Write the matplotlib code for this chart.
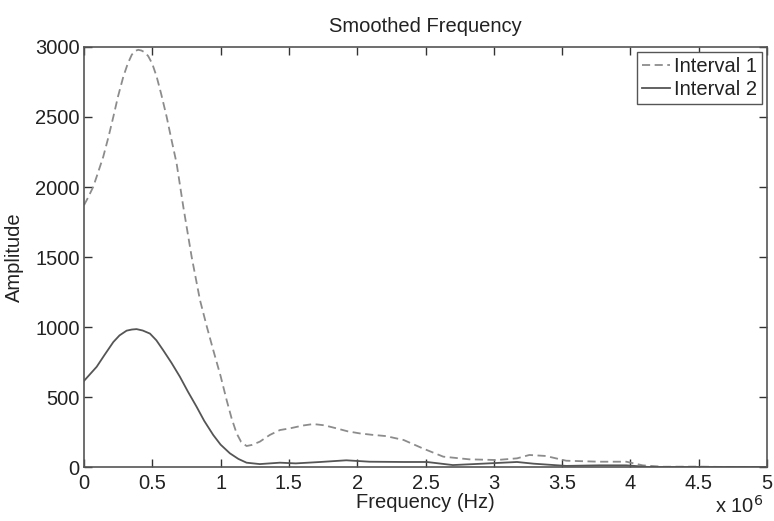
import matplotlib
matplotlib.use('Agg')
import matplotlib.pyplot as plt
from matplotlib.ticker import FuncFormatter

plt.rcParams['font.family'] = ['Liberation Sans', 'DejaVu Sans']

# frequency in MHz (axis shows x 10^6 Hz)
freq1 = [0.0, 0.03, 0.068, 0.10, 0.141, 0.18, 0.215, 0.25, 0.288, 0.32,
         0.35, 0.375, 0.397, 0.42, 0.445, 0.47, 0.50, 0.532, 0.565, 0.605,
         0.64, 0.678, 0.727, 0.788, 0.849, 0.90, 0.946, 1.0, 1.044, 1.08,
         1.117, 1.15, 1.19, 1.23, 1.287, 1.36, 1.434, 1.507, 1.6, 1.678,
         1.76, 1.849, 1.93, 2.02, 2.11, 2.21, 2.34, 2.48, 2.63, 2.82,
         3.02, 3.17, 3.26, 3.38, 3.53, 3.77, 3.97, 4.09, 4.24, 4.5,
         4.7, 5.0]
amp1 = [1870, 1925, 2002, 2095, 2216, 2360, 2502, 2650, 2788, 2880,
        2945, 2972, 2980, 2975, 2962, 2935, 2880, 2788, 2665, 2502,
        2340, 2169, 1859, 1502, 1193, 1000, 836, 650, 479, 350,
        241, 180, 150, 158, 181, 229, 264, 276, 296, 307,
        298, 276, 255, 240, 230, 221, 193, 133, 74, 55,
        50, 62, 86, 79, 45, 38, 38, 12, 2, 3,
        0, 0]

freq2 = [0.0, 0.093, 0.15, 0.215, 0.26, 0.312, 0.35, 0.385, 0.43, 0.483,
         0.53, 0.58, 0.64, 0.702, 0.76, 0.824, 0.88, 0.946, 1.0, 1.068,
         1.13, 1.19, 1.287, 1.434, 1.55, 1.73, 1.92, 2.09, 2.34, 2.51,
         2.7, 2.92, 3.17, 3.29, 3.53, 3.77, 3.97, 4.14, 4.5, 5.0]
amp2 = [615, 716, 800, 893, 940, 974, 982, 985, 975, 953,
        905, 834, 745, 645, 540, 431, 330, 229, 160, 98,
        58, 31, 21, 31, 26, 36, 48, 38, 36, 36,
        14, 24, 36, 24, 8, 12, 12, 0, 0, 0]

x_ticks = [0, 0.5, 1, 1.5, 2, 2.5, 3, 3.5, 4, 4.5, 5]
y_ticks = [0, 500, 1000, 1500, 2000, 2500, 3000]

fig = plt.figure(figsize=(7.74, 5.21), dpi=100)
ax = fig.add_axes([0.1085, 0.1036, 0.8825, 0.8062])

ax.plot([f * 1e6 for f in freq1], amp1, linestyle=(0, (4.5, 2.5)),
        color='#8c8c8c', linewidth=1.3, label='Interval 1')
ax.plot([f * 1e6 for f in freq2], amp2, linestyle='-',
        color='#555555', linewidth=1.3, label='Interval 2')

ax.set_xlim(0, 5e6)
ax.set_ylim(0, 3000)
ax.set_xticks([t * 1e6 for t in x_ticks])
ax.set_yticks(y_ticks)
ax.xaxis.set_major_formatter(FuncFormatter(lambda v, p: '%g' % (v / 1e6)))

for s in ax.spines.values():
    s.set_color('#555555')
    s.set_linewidth(1.2)
ax.tick_params(direction='in', length=6, width=1, color='#333333',
               top=True, right=True, labelsize=14.5, labelcolor='#222222')
ax.tick_params(axis='x', pad=5)
ax.tick_params(axis='y', pad=3)

ax.set_title('Smoothed Frequency', fontsize=14.5, color='#222222', pad=11)
ax.set_xlabel('Frequency (Hz)', fontsize=14.5, color='#222222', labelpad=0)
ax.set_ylabel('Amplitude', fontsize=14.5, color='#222222', labelpad=8)
fig.text(0.955, 0.016, r'x 10$^{6}$', fontsize=14.5, color='#222222', ha='center')

leg = ax.legend(loc='upper right', fontsize=14.5, handlelength=1.4,
                handletextpad=0.2, borderaxespad=0.25, borderpad=0.25,
                labelspacing=0.2, fancybox=False, framealpha=1)
leg.get_frame().set_edgecolor('#555555')
leg.get_frame().set_linewidth(1.0)
for t in leg.get_texts():
    t.set_color('#222222')

fig.savefig('out.png', dpi=100)
